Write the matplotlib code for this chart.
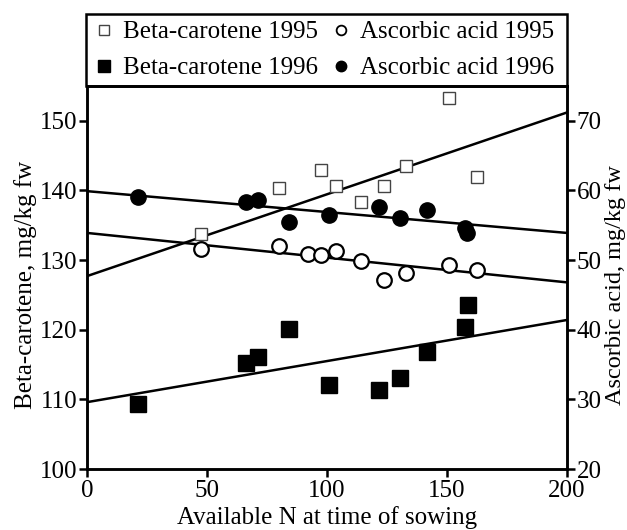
"""
Beta-carotene and ascorbic acid vs available N at sowing, 1995 and 1996.
"""

import numpy as np
import matplotlib

matplotlib.use("Agg")
import matplotlib.pyplot as plt
from matplotlib.patches import Rectangle

plt.rcParams.update({"font.family": "Liberation Serif", "font.size": 18})

# beta-carotene (left axis, mg/kg fw)
beta_1995_n = [47.4, 80.0, 97.6, 103.9, 114.2, 123.8, 132.8, 151.0, 162.5]
beta_1995 = [133.8, 140.4, 142.9, 140.7, 138.3, 140.6, 143.5, 153.3, 142.0]
beta_1996_n = [21.4, 66.1, 71.4, 84.3, 101.0, 121.7, 130.4, 141.8, 157.5, 158.6]
beta_1996 = [109.3, 115.2, 116.1, 120.1, 112.1, 111.4, 113.0, 116.8, 120.4, 123.6]

# ascorbic acid (right axis, mg/kg fw)
asc_1995_n = [47.4, 80.0, 92.2, 97.6, 103.9, 114.2, 123.8, 132.8, 151.0, 162.5]
asc_1995 = [51.6, 52.0, 50.9, 50.7, 51.3, 49.8, 47.2, 48.1, 49.3, 48.6]
asc_1996_n = [21.1, 66.1, 71.4, 84.3, 100.7, 121.7, 130.4, 141.8, 157.5, 158.5]
asc_1996 = [59.0, 58.4, 58.7, 55.4, 56.5, 57.6, 56.0, 57.2, 54.6, 53.9]

# regression lines: value at N=0 and N=200
fit_n = [0, 200]
beta_1995_fit = [127.7, 151.2]
beta_1996_fit = [109.6, 121.4]
asc_1995_fit = [53.9, 46.8]
asc_1996_fit = [59.9, 53.9]

W, H = 627, 530
fig = plt.figure(figsize=(W / 100, H / 100), dpi=100)
ax1 = fig.add_axes([87 / W, 1 - 469 / H, 480 / W, 383 / H])
ax2 = ax1.twinx()

lw = 1.8
ax1.plot(fit_n, beta_1995_fit, "k-", lw=lw)
ax1.plot(fit_n, beta_1996_fit, "k-", lw=lw)
ax2.plot(fit_n, asc_1995_fit, "k-", lw=lw)
ax2.plot(fit_n, asc_1996_fit, "k-", lw=lw)

h1, = ax1.plot(beta_1995_n, beta_1995, "s", ms=8.5, mfc="white", mec="#444444",
               mew=1.0, ls="none")
h2, = ax1.plot(beta_1996_n, beta_1996, "s", ms=11, mfc="black", mec="black",
               ls="none")
h3, = ax2.plot(asc_1995_n, asc_1995, "o", ms=10.5, mfc="white", mec="black",
               mew=1.6, ls="none")
h4, = ax2.plot(asc_1996_n, asc_1996, "o", ms=11, mfc="black", mec="black",
               ls="none")

ax1.set_xlim(0, 200)
ax1.set_ylim(100, 155)
ax2.set_ylim(20, 75)
ax1.set_xticks([0, 50, 100, 150, 200])
ax1.set_yticks([100, 110, 120, 130, 140, 150])
ax2.set_yticks([20, 30, 40, 50, 60, 70])

for ax in (ax1, ax2):
    for s in ax.spines.values():
        s.set_linewidth(1.8)
    ax.tick_params(direction="out", length=6, width=1.8, pad=1)
ax1.tick_params(axis="x", pad=2)

ax1.set_xlabel("Available N at time of sowing", fontsize=18, labelpad=3)
ax1.set_ylabel("Beta-carotene, mg/kg fw")
ax2.set_ylabel("Ascorbic acid, mg/kg fw", fontsize=17.5)
ax1.yaxis.set_label_coords(-0.105, 0.48)
ax2.yaxis.set_label_coords(1.079, 0.48)

# legend sits in a box spanning the full width of the axes, right on top of it
leg = fig.legend([h1, h2, h3, h4],
                 ["Beta-carotene 1995", "Beta-carotene 1996",
                  "Ascorbic acid 1995", "Ascorbic acid 1996"],
                 ncol=2, loc="upper left", fontsize=18,
                 bbox_to_anchor=(86 / W, 1 - 14 / H),
                 frameon=False, handlelength=0.9, handletextpad=0.31,
                 columnspacing=0.47, labelspacing=0.54, borderpad=0.27,
                 borderaxespad=0)
for handle, size in zip(leg.legend_handles, [7.5, 8, 7, 7.5]):
    handle.set_markersize(size)
leg.legend_handles[2].set_markeredgewidth(1.3)
fig.patches.append(Rectangle((86 / W, 1 - 86 / H), 481 / W, 72 / H,
                             transform=fig.transFigure, fill=False,
                             edgecolor="black", linewidth=1.8))

plt.savefig("out.png", dpi=100)
